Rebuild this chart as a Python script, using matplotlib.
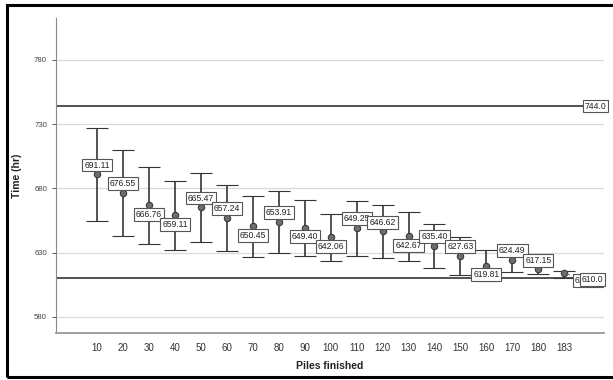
import matplotlib
matplotlib.use("Agg")
import matplotlib.pyplot as plt
import matplotlib.patches as mpatches
import numpy as np

plt.rcParams["font.family"] = ["Liberation Sans", "DejaVu Sans"]

# donnees
piles = ["10", "20", "30", "40", "50", "60", "70", "80", "90", "100",
         "110", "120", "130", "140", "150", "160", "170", "180", "183"]
moyennes = [691.11, 676.55, 666.76, 659.11, 665.47, 657.24, 650.45, 653.91,
            649.40, 642.06, 649.25, 646.62, 642.67, 635.40, 627.63, 619.81,
            624.49, 617.15, 613.90]
haut = [727.3, 710.0, 697.0, 685.8, 692.3, 682.7, 674.2, 678.1, 671.3, 660.4,
        670.5, 667.2, 661.7, 652.6, 642.5, 631.9, 633.7, 620.8, 616.0]
bas = [654.9, 643.0, 636.8, 632.1, 638.6, 631.4, 626.7, 629.6, 627.2, 623.8,
       627.7, 626.2, 623.6, 617.9, 612.5, 607.6, 615.3, 613.5, 610.6]
references = [744.0, 610.0]

# position de l'etiquette: 1 = au-dessus du point, 0 = en dessous
dessus = [1, 1, 0, 0, 1, 1, 0, 1, 0, 0, 1, 1, 0, 1, 1, 0, 1, 1]

GRIS = "#353535"

fig = plt.figure(figsize=(6.13, 3.80), dpi=100, facecolor="white")
ax = fig.add_axes([0.0914, 0.1237, 0.8939, 0.8289])

x = np.arange(len(piles))
m = np.array(moyennes)
err = [m - np.array(bas), np.array(haut) - m]

ax.errorbar(x, m, yerr=err, fmt="o", color=GRIS, ecolor=GRIS,
            elinewidth=1.2, capsize=8, capthick=1.2,
            markersize=4.6, markerfacecolor="#6e6e6e",
            markeredgecolor="#3a3a3a", markeredgewidth=0.8, zorder=3)

# lignes de reference
for v in references:
    ax.axhline(v, color="#333333", linewidth=1.2, zorder=2)

boite = dict(boxstyle="square,pad=0.22", facecolor="white",
             edgecolor="#555555", linewidth=0.8)

# etiquettes des moyennes
for i, s in enumerate(dessus):
    dy = 6.5 if s else -6.5
    ax.annotate(f"{moyennes[i]:.2f}", (x[i], moyennes[i]),
                xytext=(0, dy), textcoords="offset points",
                ha="center", va="center", fontsize=6.2, color="#222222",
                bbox=boite, zorder=5)

# derniere etiquette, cachee en partie par celle de 610.0
i = len(piles) - 1
ax.annotate(f"{moyennes[i]:.2f}", (x[i], moyennes[i]),
            xytext=(17, -5), textcoords="offset points",
            ha="center", va="center", fontsize=6.2, color="#222222",
            bbox=boite, zorder=5,
            arrowprops=dict(arrowstyle="-", color="#555555", lw=0.6))

# etiquettes des lignes de reference, a droite
ax.text(19.2, references[0], f"{references[0]:.1f}", ha="center",
        va="center", fontsize=6.2, color="#222222", bbox=boite, zorder=6)
ax.text(19.08, references[1] - 1.0, f"{references[1]:.1f}", ha="center",
        va="center", fontsize=6.2, color="#222222", bbox=boite, zorder=6)

ax.set_xlim(-1.58, 19.53)
ax.set_ylim(567.5, 812.5)
ax.set_yticks([580, 630, 680, 730, 780])
ax.set_xticks(x)
ax.set_xticklabels(piles)

ax.grid(axis="y", color="#d9d9d9", linewidth=0.9, zorder=0)
ax.set_axisbelow(True)

for cote in ["top", "right"]:
    ax.spines[cote].set_visible(False)
ax.spines["left"].set_color("#888888")
ax.spines["bottom"].set_color("#999999")
ax.spines["bottom"].set_linewidth(1.3)

ax.tick_params(axis="y", labelsize=5.6, colors="#555555", length=3,
               width=0.7, labelcolor="#444444")
ax.tick_params(axis="x", labelsize=7, length=0, pad=7, labelcolor="#333333")

ax.set_ylabel("Time (hr)", fontsize=7.5, fontweight="bold", color="#222222")
ax.yaxis.set_label_coords(-0.0626, 0.5)
ax.set_xlabel("Piles finished", fontsize=7.5, fontweight="bold",
              color="#222222", labelpad=6)

# cadre noir autour de la figure
cadre = mpatches.Rectangle((0.0114, 0.0075), 1.05, 0.9795,
                           transform=fig.transFigure, fill=False,
                           edgecolor="black", linewidth=2.2)
fig.patches.append(cadre)

fig.savefig("out.png", dpi=100)
